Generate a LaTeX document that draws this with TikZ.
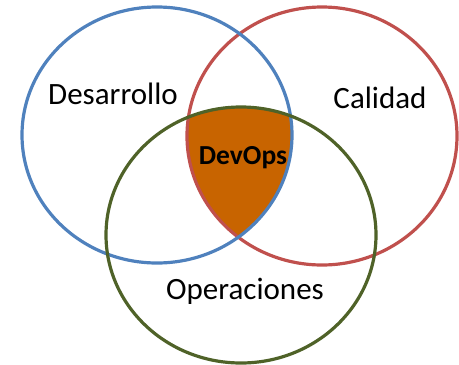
\documentclass[tikz,border=0pt]{standalone}
\usepackage{fontspec}
\setmainfont{Carlito}
\definecolor{cblue}{HTML}{4F81BD}
\definecolor{cred}{HTML}{C0504D}
\definecolor{cgreen}{HTML}{4F6228}
\definecolor{corange}{HTML}{C86400}
\begin{document}
\begin{tikzpicture}[x=1pt,y=-1pt,
  ring/.style={line width=3.2pt},
  lbl/.style={font=\fontsize{31}{31}\selectfont, inner sep=0pt, anchor=base}]
\useasboundingbox (0,0) rectangle (459,365);
\begin{scope}
  \clip (157,135) ellipse [x radius=135, y radius=128];
  \clip (322,136) ellipse [x radius=135, y radius=129];
  \fill[corange] (241,235) ellipse [x radius=135, y radius=128];
\end{scope}
\draw[ring, cred] (322,136) ellipse [x radius=135, y radius=129];
\draw[ring, cblue] (157,135) ellipse [x radius=135, y radius=128];
\draw[ring, cgreen] (241,235) ellipse [x radius=135, y radius=128];
\node[lbl] (dev) at (113,104) {Desarrollo};
\node[lbl] (cal) at (380,108) {Calidad};
\node[lbl, font=\fontsize{27.5}{27.5}\selectfont\bfseries] (devops) at (243,164) {DevOps};
\node[lbl] (ops) at (245,299) {Operaciones};
\end{tikzpicture}
\end{document}
